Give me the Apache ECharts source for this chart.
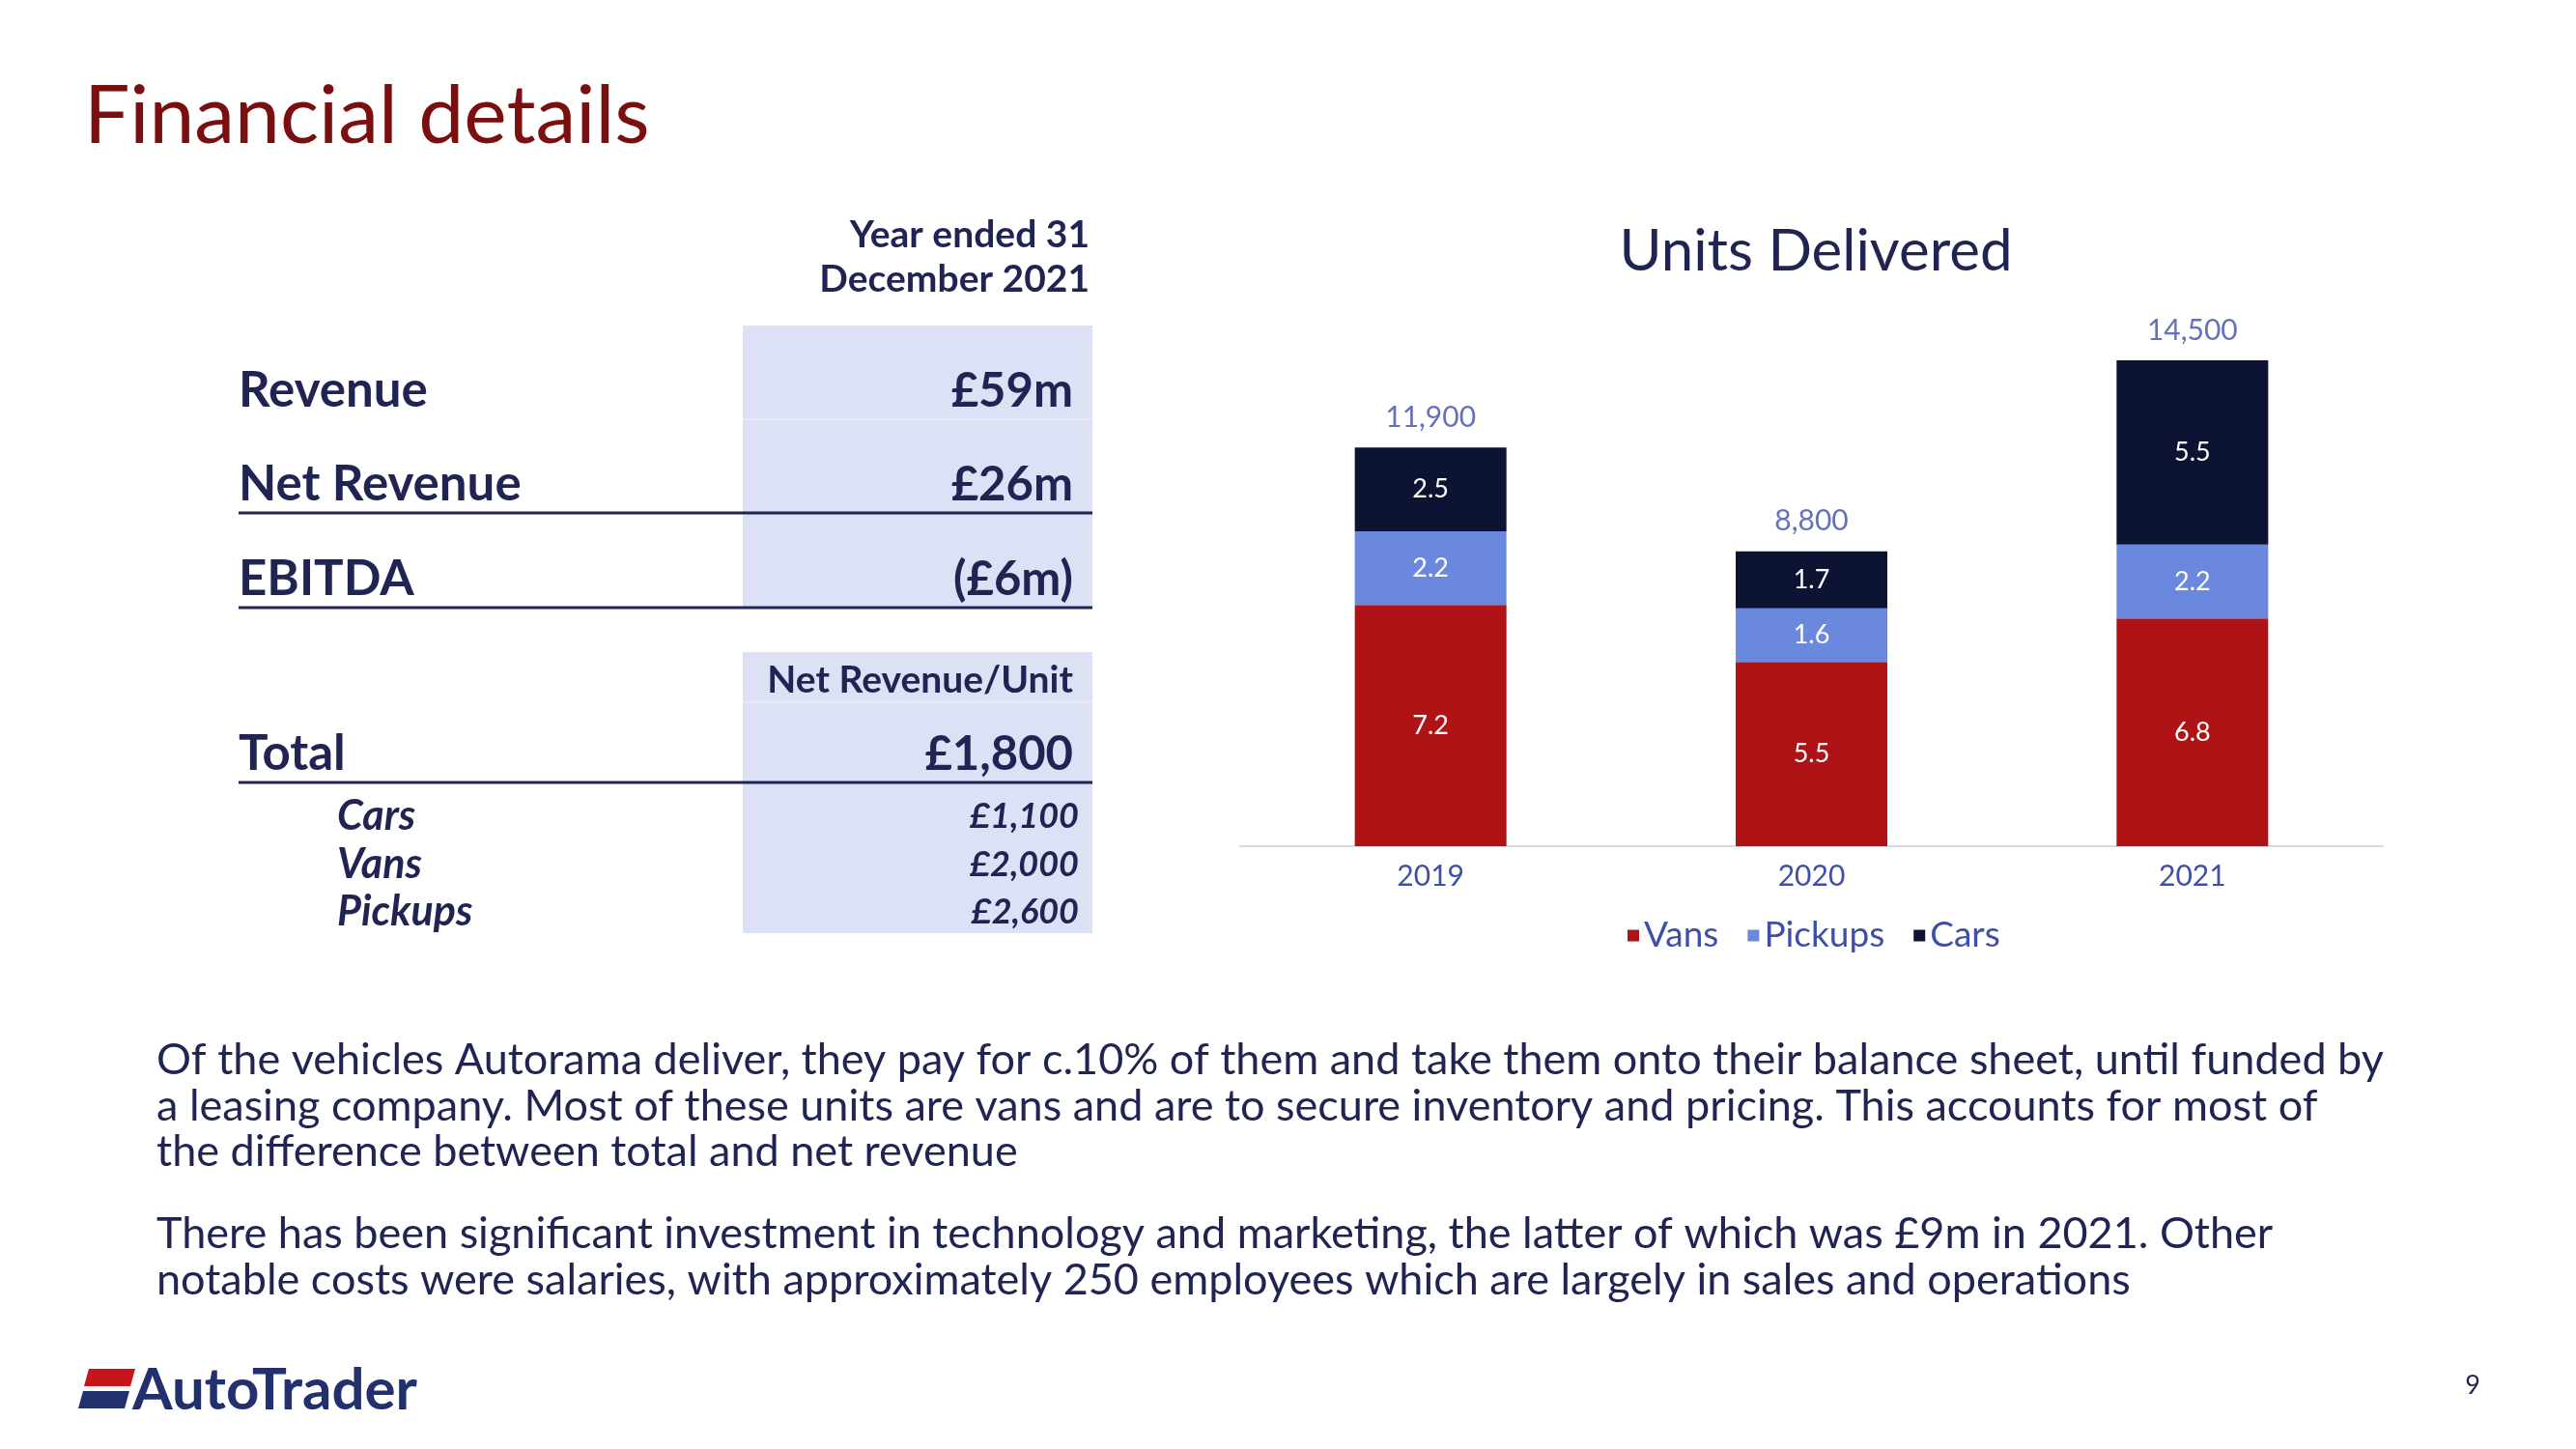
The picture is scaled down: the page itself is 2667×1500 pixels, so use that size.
<!DOCTYPE html>
<html>
<head>
<meta charset="utf-8">
<script src="https://cdn.jsdelivr.net/npm/echarts@6/dist/echarts.min.js"></script>
<style>
  html, body { margin: 0; padding: 0; background: #ffffff; }
  #chart { width: 2667px; height: 1500px; }
</style>
</head>
<body>
<div id="chart"></div>
<script>
// ---- Chart data ----
const years = ['2019', '2020', '2021'];
const vans = [7.2, 5.5, 6.8];
const pickups = [2.2, 1.6, 2.2];
const cars = [2.5, 1.7, 5.5];
const totals = [11900, 8800, 14500];

// ---- Table data ----
const finLabels = ['Revenue', 'Net Revenue', 'EBITDA'];
const finValues = ['£59m', '£26m', '(£6m)'];
const totalLabel = 'Total';
const totalValue = '£1,800';
const unitLabels = ['Cars', 'Vans', 'Pickups'];
const unitValues = ['£1,100', '£2,000', '£2,600'];

// ---- Text ----
const para1 = [
  'Of the vehicles Autorama deliver, they pay for c.10% of them and take them onto their balance sheet, until funded by',
  'a leasing company. Most of these units are vans and are to secure inventory and pricing. This accounts for most of',
  'the difference between total and net revenue'
];
const para2 = [
  'There has been significant investment in technology and marketing, the latter of which was £9m in 2021. Other',
  'notable costs were salaries, with approximately 250 employees which are largely in sales and operations'
];

const NAVY = '#1F2453';
const BLUE = '#3F4EA8';
const FONT = 'Lato, "Noto Sans", sans-serif';

const chart = echarts.init(document.getElementById('chart'), null, { renderer: 'canvas' });

const graphics = [];
// shaded columns
graphics.push({ type: 'rect', shape: { x: 769, y: 337, width: 362, height: 292 }, style: { fill: '#DCE1F5' }, z: 1 });
graphics.push({ type: 'rect', shape: { x: 769, y: 675, width: 362, height: 291 }, style: { fill: '#DCE1F5' }, z: 1 });
graphics.push({ type: 'line', shape: { x1: 769, y1: 434, x2: 1131, y2: 434 }, style: { stroke: '#E6EAF8', lineWidth: 2 }, z: 2 });
graphics.push({ type: 'line', shape: { x1: 769, y1: 727, x2: 1131, y2: 727 }, style: { stroke: '#E6EAF8', lineWidth: 2 }, z: 2 });

// header
graphics.push({ type: 'text', style: { text: 'Year ended 31', x: 1128, y: 243, align: 'right', verticalAlign: 'middle', font: 'bold 39px ' + FONT, fill: NAVY }, z: 3 });
graphics.push({ type: 'text', style: { text: 'December 2021', x: 1128, y: 289, align: 'right', verticalAlign: 'middle', font: 'bold 39px ' + FONT, fill: NAVY }, z: 3 });

const finY = [405, 502, 600];
finLabels.forEach((l, i) => {
  graphics.push({ type: 'text', style: { text: l, x: 247, y: finY[i], align: 'left', verticalAlign: 'middle', font: 'bold 51px ' + FONT, fill: NAVY }, z: 3 });
  graphics.push({ type: 'text', style: { text: finValues[i], x: 1111, y: finY[i], align: 'right', verticalAlign: 'middle', font: 'bold 49px ' + FONT, fill: NAVY }, z: 3 });
});
[531, 629, 810].forEach(yy => {
  graphics.push({ type: 'line', shape: { x1: 247, y1: yy, x2: 1131, y2: yy }, style: { stroke: NAVY, lineWidth: 3 }, z: 3 });
});

graphics.push({ type: 'text', style: { text: 'Net Revenue/Unit', x: 1111, y: 704, align: 'right', verticalAlign: 'middle', font: 'bold 39px ' + FONT, fill: NAVY }, z: 3 });
graphics.push({ type: 'text', style: { text: totalLabel, x: 247, y: 781, align: 'left', verticalAlign: 'middle', font: 'bold 51px ' + FONT, fill: NAVY }, z: 3 });
graphics.push({ type: 'text', style: { text: totalValue, x: 1111, y: 781, align: 'right', verticalAlign: 'middle', font: 'bold 49px ' + FONT, fill: NAVY }, z: 3 });

const unitY = [845, 895, 944];
unitLabels.forEach((l, i) => {
  graphics.push({ type: 'text', style: { text: l, x: 349, y: unitY[i], align: 'left', verticalAlign: 'middle', font: 'italic bold 43px ' + FONT, fill: NAVY }, z: 3 });
  graphics.push({ type: 'text', style: { text: unitValues[i], x: 1117, y: unitY[i], align: 'right', verticalAlign: 'middle', font: 'italic bold 36px ' + FONT, fill: NAVY }, z: 3 });
});

// paragraphs
const p1Y = [1097, 1145, 1192];
para1.forEach((t, i) => graphics.push({ type: 'text', style: { text: t, x: 162, y: p1Y[i], align: 'left', verticalAlign: 'middle', font: '45px ' + FONT, fill: NAVY }, z: 3 }));
const p2Y = [1277, 1325];
para2.forEach((t, i) => graphics.push({ type: 'text', style: { text: t, x: 162, y: p2Y[i], align: 'left', verticalAlign: 'middle', font: '45px ' + FONT, fill: NAVY }, z: 3 }));

// logo
graphics.push({ type: 'polygon', shape: { points: [[92, 1417], [140, 1417], [135, 1435], [87, 1435]] }, style: { fill: '#C8151B' }, z: 3 });
graphics.push({ type: 'polygon', shape: { points: [[86, 1440], [134, 1440], [129, 1458], [81, 1458]] }, style: { fill: '#22306E' }, z: 3 });
graphics.push({ type: 'text', style: { text: 'AutoTrader', x: 137, y: 1440, align: 'left', verticalAlign: 'middle', font: 'bold 60px ' + FONT, fill: '#22306E' }, z: 3 });
// page number
graphics.push({ type: 'text', style: { text: '9', x: 2560, y: 1434, align: 'center', verticalAlign: 'middle', font: '27px ' + FONT, fill: NAVY }, z: 3 });

const labelInside = {
  show: true, position: 'inside', color: '#ffffff', fontSize: 27, fontFamily: FONT
};

chart.setOption({
  backgroundColor: '#ffffff',
  animation: false,
  title: [
    { text: 'Financial details', left: 82, top: 74, textStyle: { fontSize: 84, fontWeight: 'normal', color: '#7B0F0F', fontFamily: FONT } },
    { text: 'Units Delivered', left: 1875, top: 226, textAlign: 'center', textStyle: { fontSize: 60, fontWeight: 'normal', color: NAVY, fontFamily: FONT } }
  ],
  legend: {
    data: ['Vans', 'Pickups', 'Cars'],
    left: 1680, top: 945,
    icon: 'rect', itemWidth: 12, itemHeight: 12, itemGap: 30,
    textStyle: { fontSize: 37, color: BLUE, fontFamily: FONT, padding: [0, 0, 0, 0] }
  },
  grid: { left: 1284, width: 1183, top: 321, height: 555, containLabel: false },
  xAxis: {
    type: 'category', data: years,
    axisLine: { lineStyle: { color: '#D9D9E3', width: 2 } },
    axisTick: { show: false },
    axisLabel: { fontSize: 30, color: BLUE, fontFamily: FONT, margin: 16 }
  },
  yAxis: { type: 'value', min: 0, max: 16, show: false, splitLine: { show: false } },
  graphic: graphics,
  series: [
    { name: 'Vans', type: 'bar', stack: 'u', barWidth: 157, data: vans, itemStyle: { color: '#B01316' }, label: labelInside },
    { name: 'Pickups', type: 'bar', stack: 'u', barWidth: 157, data: pickups, itemStyle: { color: '#6A88DD' }, label: labelInside },
    { name: 'Cars', type: 'bar', stack: 'u', barWidth: 157, data: cars, itemStyle: { color: '#0D1433' }, label: labelInside },
    {
      name: 'Total', type: 'scatter', symbolSize: 0, data: totals.map(v => v / 1000),
      label: { show: true, position: 'top', distance: 16, fontSize: 30, color: BLUE, fontFamily: FONT,
        formatter: p => totals[p.dataIndex].toLocaleString('en-GB') },
      z: 5
    }
  ]
});
</script>
</body>
</html>
